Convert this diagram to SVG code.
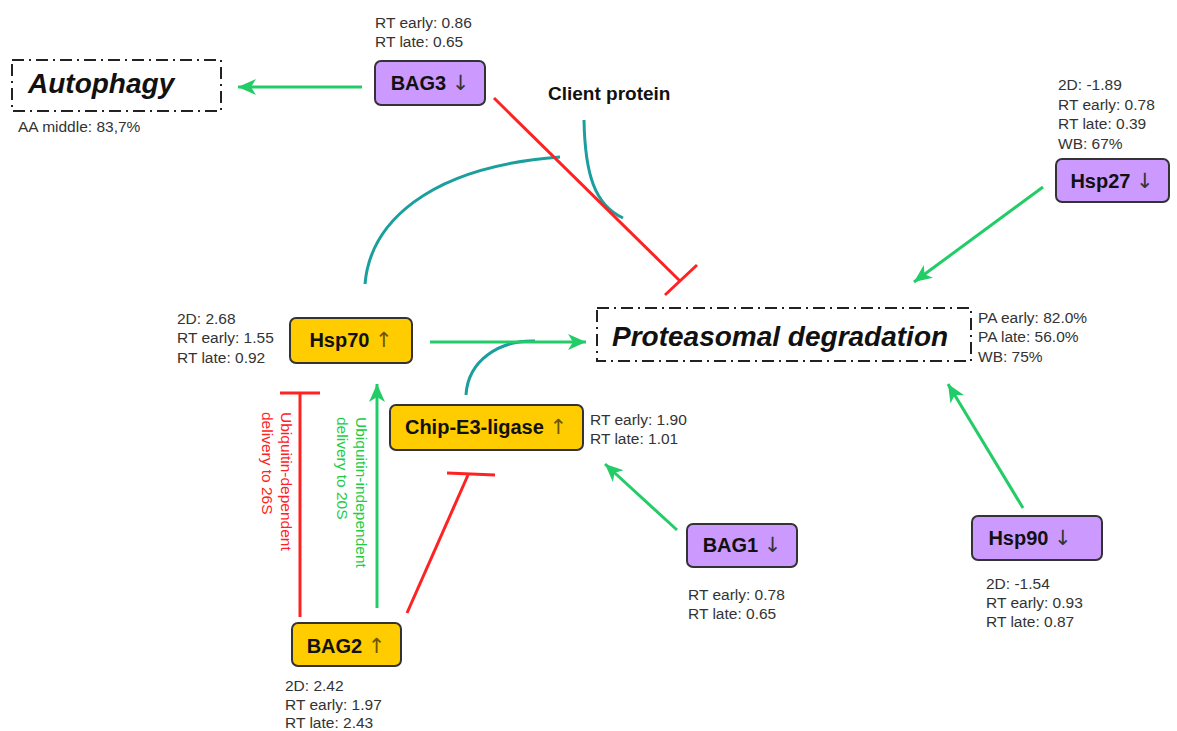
<svg xmlns="http://www.w3.org/2000/svg" width="1177" height="731" viewBox="0 0 1177 731">
<defs>
<marker id="ga" markerUnits="userSpaceOnUse" markerWidth="20" markerHeight="18" refX="18" refY="8" orient="auto">
<path d="M0,0 L18,8 L0,16 L5,8 Z" fill="#22cc66"/>
</marker>
<style>
.lbl{font-family:"Liberation Sans",Arial,sans-serif;font-size:15.5px;fill:#333}
.nt{font-family:"Liberation Sans",Arial,sans-serif;font-size:20px;font-weight:bold;fill:#111;text-anchor:middle}
.ar{font-family:"DejaVu Sans",sans-serif;font-weight:normal;font-size:21px;fill:#333}
.aro{font-family:"DejaVu Sans",sans-serif;font-weight:normal;font-size:21px;fill:#6b5500}
.big{font-family:"Liberation Sans",Arial,sans-serif;font-size:28px;font-weight:bold;font-style:italic;fill:#111}
.dd{fill:#fff;stroke:#222;stroke-width:2;stroke-dasharray:12 5 2 5}
.pu{fill:#cc99ff;stroke:#333;stroke-width:2}
.or{fill:#ffcc00;stroke:#333;stroke-width:2}
.g{stroke:#22cc66;stroke-width:3;fill:none}
.r{stroke:#ff2222;stroke-width:3;fill:none}
.t{stroke:#1a9e9e;stroke-width:3;fill:none}
.rt{font-family:"Liberation Sans",Arial,sans-serif;font-size:15.5px}
</style>
</defs>
<rect width="1177" height="731" fill="#fff"/>

<g id="connectors">
<path class="t" d="M365,284 C370,225 425,167 560,157"/>
<path class="t" d="M584,120 C585,175 595,205 623,218"/>
<path class="t" d="M466,395 C468,360 500,340 535,341"/>
<line class="g" x1="362" y1="87" x2="238" y2="87" marker-end="url(#ga)"/>
<line class="g" x1="430" y1="342" x2="586" y2="342" marker-end="url(#ga)"/>
<line class="g" x1="1043" y1="187" x2="914" y2="282" marker-end="url(#ga)"/>
<line class="g" x1="1023" y1="508" x2="948" y2="384" marker-end="url(#ga)"/>
<line class="g" x1="677" y1="530" x2="605" y2="464" marker-end="url(#ga)"/>
<line class="g" x1="377" y1="608" x2="377" y2="384" marker-end="url(#ga)"/>
<line class="r" x1="494" y1="98" x2="680" y2="281"/>
<line class="r" x1="665" y1="295" x2="697" y2="265"/>
<line class="r" x1="300" y1="617" x2="300" y2="393"/>
<line class="r" x1="280" y1="393" x2="320" y2="393"/>
<line class="r" x1="407" y1="613" x2="468" y2="475"/>
<line class="r" x1="447" y1="473" x2="495" y2="475"/>
<text class="rt" fill="#ff2222" transform="translate(281,412) rotate(90)">Ubiquitin-dependent</text>
<text class="rt" fill="#ff2222" transform="translate(262,412) rotate(90)">delivery to 26S</text>
<text class="rt" fill="#22cc44" transform="translate(356,417) rotate(90)">Ubiquitin-independent</text>
<text class="rt" fill="#22cc44" transform="translate(337,417) rotate(90)">delivery to 20S</text>
</g>

<g id="autophagy">
<rect class="dd" x="12" y="60" width="209" height="51"/>
<text class="big" x="28" y="93">Autophagy</text>
<text class="lbl" x="18" y="132">AA middle: 83,7%</text>
</g>

<g id="bag3">
<text class="lbl" x="375" y="28">RT early: 0.86</text>
<text class="lbl" x="375" y="47">RT late: 0.65</text>
<rect class="pu" x="375" y="61" width="110" height="44" rx="6"/>
<text class="nt" x="430" y="90">BAG3 <tspan class="ar">↓</tspan></text>
</g>

<g id="client">
<text x="548" y="100" font-family="Liberation Sans, Arial, sans-serif" font-size="19" font-weight="bold" fill="#111">Client protein</text>
</g>

<g id="hsp27">
<text class="lbl" x="1058" y="90">2D: -1.89</text>
<text class="lbl" x="1058" y="109.5">RT early: 0.78</text>
<text class="lbl" x="1058" y="129">RT late: 0.39</text>
<text class="lbl" x="1058" y="148.5">WB: 67%</text>
<rect class="pu" x="1056" y="159" width="113" height="43" rx="6"/>
<text class="nt" x="1112" y="188">Hsp27 <tspan class="ar">↓</tspan></text>
</g>

<g id="hsp70">
<text class="lbl" x="177" y="324">2D: 2.68</text>
<text class="lbl" x="177" y="343">RT early: 1.55</text>
<text class="lbl" x="177" y="363">RT late: 0.92</text>
<rect class="or" x="290" y="318" width="122" height="45" rx="6"/>
<text class="nt" x="351" y="347">Hsp70 <tspan class="aro">↑</tspan></text>
</g>

<g id="proteasomal">
<rect class="dd" x="597" y="308" width="374" height="53"/>
<text class="big" x="612" y="346">Proteasomal degradation</text>
<text class="lbl" x="978" y="323">PA early: 82.0%</text>
<text class="lbl" x="978" y="342">PA late: 56.0%</text>
<text class="lbl" x="978" y="362">WB: 75%</text>
</g>

<g id="chip">
<rect class="or" x="390" y="405" width="193" height="45" rx="6"/>
<text class="nt" x="486" y="434">Chip-E3-ligase <tspan class="aro">↑</tspan></text>
<text class="lbl" x="590" y="425">RT early: 1.90</text>
<text class="lbl" x="590" y="444">RT late: 1.01</text>
</g>

<g id="bag1">
<rect class="pu" x="687" y="524" width="110" height="43" rx="6"/>
<text class="nt" x="742" y="552">BAG1 <tspan class="ar">↓</tspan></text>
<text class="lbl" x="688" y="600">RT early: 0.78</text>
<text class="lbl" x="688" y="619">RT late: 0.65</text>
</g>

<g id="hsp90">
<rect class="pu" x="972" y="516" width="130" height="44" rx="6"/>
<text class="nt" x="1030" y="545">Hsp90 <tspan class="ar">↓</tspan></text>
<text class="lbl" x="986" y="589">2D: -1.54</text>
<text class="lbl" x="986" y="608">RT early: 0.93</text>
<text class="lbl" x="986" y="627">RT late: 0.87</text>
</g>

<g id="bag2">
<rect class="or" x="292" y="623" width="109" height="43" rx="6"/>
<text class="nt" x="346" y="653">BAG2 <tspan class="aro">↑</tspan></text>
<text class="lbl" x="285" y="691">2D: 2.42</text>
<text class="lbl" x="285" y="710">RT early: 1.97</text>
<text class="lbl" x="285" y="728">RT late: 2.43</text>
</g>
</svg>
